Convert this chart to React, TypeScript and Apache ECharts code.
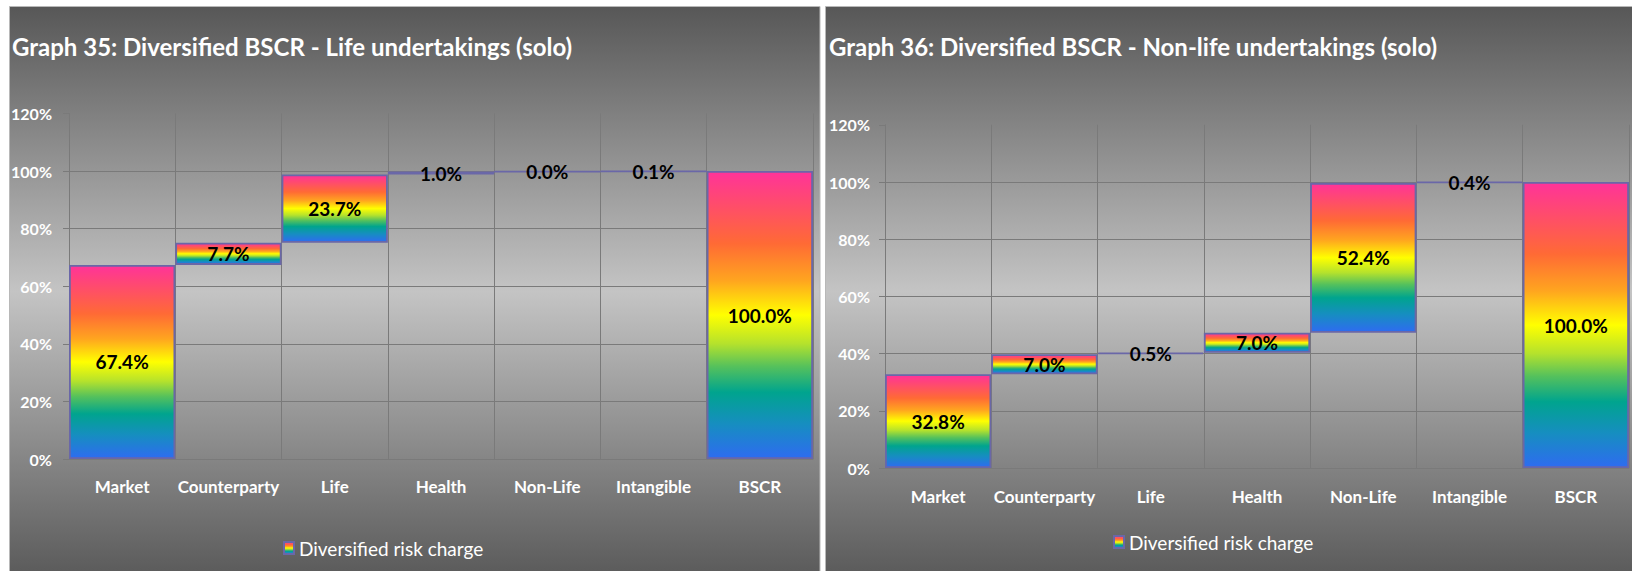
import React, { useEffect, useRef } from "react";
import * as echarts from "echarts";

const categories = ["Market", "Counterparty", "Life", "Health", "Non-Life", "Intangible", "BSCR"];
const yTickMin = 0;
const yTickMax = 120;
const yTickStep = 20;
const seriesName = "Diversified risk charge";
const titles = [
  "Graph 35: Diversified BSCR - Life undertakings (solo)",
  "Graph 36: Diversified BSCR - Non-life undertakings (solo)",
];
const lifeValues = [67.4, 7.7, 23.7, 1.0, 0.0, 0.1, 100.0];
const nonLifeValues = [32.8, 7.0, 0.5, 7.0, 52.4, 0.4, 100.0];

function waterfallBases(values: number[]): number[] {
  const bases: number[] = [];
  let acc = 0;
  values.forEach((v, i) => {
    if (i === values.length - 1) {
      bases.push(0);
    } else {
      bases.push(Math.round(acc * 10) / 10);
      acc += v;
    }
  });
  return bases;
}

const FONT = "Lato, 'Open Sans', sans-serif";

const rainbow = () =>
  new echarts.graphic.LinearGradient(0, 0, 0, 1, [
    { offset: 0, color: "#ff3399" },
    { offset: 0.25, color: "#ff6a35" },
    { offset: 0.38, color: "#ffa51f" },
    { offset: 0.5, color: "#ffff00" },
    { offset: 0.6, color: "#b5e22c" },
    { offset: 0.68, color: "#55c15c" },
    { offset: 0.77, color: "#00a48e" },
    { offset: 0.88, color: "#168ec0" },
    { offset: 1, color: "#2e6cf0" },
  ]);

const panelGradient = () =>
  new echarts.graphic.LinearGradient(0, 0, 0, 1, [
    { offset: 0, color: "#575757" },
    { offset: 0.5, color: "#c4c4c4" },
    { offset: 1, color: "#5a5a5a" },
  ]);

export default function App() {
  const ref = useRef<HTMLDivElement>(null);

  useEffect(() => {
    if (!ref.current) return;
    const chart = echarts.init(ref.current, undefined, { renderer: "svg" });

    const grids = [
      { left: 69, right: 1632 - 813, top: 459 - 345.6, bottom: 571 - 459 },
      { left: 885, right: 1632 - 1629, top: 468 - 343.2, bottom: 571 - 468 },
    ];

    const gridColor = "#7a7a7a";

    const xAxes = grids.map((_, i) => ({
      type: "category",
      gridIndex: i,
      data: categories,
      axisLine: { show: true, lineStyle: { color: gridColor, width: 1 } },
      axisTick: { show: false },
      splitLine: { show: true, lineStyle: { color: gridColor, width: 1 } },
      axisLabel: {
        color: "#ffffff",
        fontFamily: FONT,
        fontWeight: "bold",
        fontSize: 17,
        margin: i === 0 ? 19 : 20,
        interval: 0,
      },
    }));

    const yAxes = grids.map((_, i) => ({
      type: "value",
      gridIndex: i,
      min: yTickMin,
      max: yTickMax,
      interval: yTickStep,
      axisLine: { show: true, lineStyle: { color: gridColor, width: 1 } },
      axisTick: { show: true, length: 6, lineStyle: { color: gridColor } },
      splitLine: { show: true, showMaxLine: false, lineStyle: { color: gridColor, width: 1 } },
      axisLabel: {
        color: "#ffffff",
        fontFamily: FONT,
        fontWeight: "bold",
        fontSize: 16,
        margin: i === 0 ? 17 : 15,
        formatter: "{value}%",
      },
    }));

    const datasets = [lifeValues, nonLifeValues];
    const series: any[] = [];
    datasets.forEach((vals, i) => {
      const stack = i === 0 ? "stackL" : "stackR";
      series.push({
        type: "bar",
        name: "base" + i,
        xAxisIndex: i,
        yAxisIndex: i,
        stack,
        silent: true,
        barCategoryGap: "0%",
        itemStyle: { color: "rgba(0,0,0,0)", borderWidth: 0 },
        data: waterfallBases(vals),
      });
      series.push({
        type: "bar",
        name: seriesName,
        xAxisIndex: i,
        yAxisIndex: i,
        stack,
        barCategoryGap: "0%",
        itemStyle: { color: rainbow(), borderColor: "#6a67a8", borderWidth: 1.8 },
        label: {
          show: true,
          position: "inside",
          color: "#000000",
          fontFamily: FONT,
          fontWeight: "bold",
          fontSize: 19,
          formatter: (p: any) => Number(p.value).toFixed(1) + "%",
        },
        data: vals,
      });
    });

    chart.setOption({
      animation: false,
      backgroundColor: "#ffffff",
      title: titles.map((t, i) => ({
        text: t,
        left: i === 0 ? 12 : 829,
        top: 31,
        padding: 0,
        textStyle: {
          color: "#ffffff",
          fontFamily: FONT,
          fontWeight: "bold",
          fontSize: 24,
          lineHeight: 30,
        },
      })),
      legend: [
        { left: 283, top: 537 },
        { left: 1113, top: 531 },
      ].map((pos) => ({
        ...pos,
        padding: 0,
        data: [seriesName],
        icon: "rect",
        itemWidth: 10,
        itemHeight: 12,
        selectedMode: false,
        textStyle: { color: "#ffffff", fontFamily: FONT, fontSize: 19, lineHeight: 22 },
      })),
      graphic: [
        {
          type: "rect",
          z: -10,
          shape: { x: 9.5, y: 6.5, width: 810.5, height: 570 },
          style: { fill: panelGradient(), stroke: "#b8b8b8", lineWidth: 1 },
        },
        {
          type: "rect",
          z: -10,
          shape: { x: 825.5, y: 6.5, width: 810, height: 570 },
          style: { fill: panelGradient(), stroke: "#b8b8b8", lineWidth: 1 },
        },
      ],
      grid: grids,
      xAxis: xAxes,
      yAxis: yAxes,
      series,
    });

    return () => chart.dispose();
  }, []);

  return (
    <div
      ref={ref}
      style={{ position: "fixed", left: 0, top: 0, width: 1632, height: 571 }}
    />
  );
}
